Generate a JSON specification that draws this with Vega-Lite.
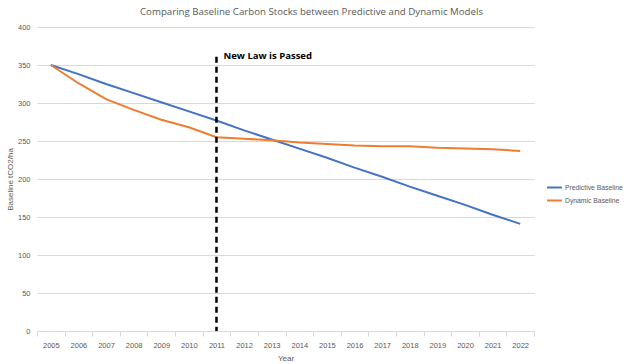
{
  "$schema": "https://vega.github.io/schema/vega-lite/v6.json",
  "width": 497,
  "height": 304,
  "autosize": {"type": "none"},
  "padding": {"left": 37, "top": 27, "right": 90, "bottom": 33},
  "background": "white",
  "config": {"view": {"stroke": null}, "font": "Liberation Sans"},
  "title": {"text": "Comparing Baseline Carbon Stocks between Predictive and Dynamic Models", "fontSize": 9.7, "fontWeight": "normal", "color": "#595959", "anchor": "middle", "dx": 26, "offset": 6, "font": "Open Sans"},
  "datasets": {
    "series": [
      {"Year": "2005", "Series": "Predictive Baseline", "Value": 350},
      {"Year": "2006", "Series": "Predictive Baseline", "Value": 338},
      {"Year": "2007", "Series": "Predictive Baseline", "Value": 325},
      {"Year": "2008", "Series": "Predictive Baseline", "Value": 313},
      {"Year": "2009", "Series": "Predictive Baseline", "Value": 301},
      {"Year": "2010", "Series": "Predictive Baseline", "Value": 289},
      {"Year": "2011", "Series": "Predictive Baseline", "Value": 277},
      {"Year": "2012", "Series": "Predictive Baseline", "Value": 264},
      {"Year": "2013", "Series": "Predictive Baseline", "Value": 252},
      {"Year": "2014", "Series": "Predictive Baseline", "Value": 240},
      {"Year": "2015", "Series": "Predictive Baseline", "Value": 228},
      {"Year": "2016", "Series": "Predictive Baseline", "Value": 215},
      {"Year": "2017", "Series": "Predictive Baseline", "Value": 203},
      {"Year": "2018", "Series": "Predictive Baseline", "Value": 190},
      {"Year": "2019", "Series": "Predictive Baseline", "Value": 178},
      {"Year": "2020", "Series": "Predictive Baseline", "Value": 166},
      {"Year": "2021", "Series": "Predictive Baseline", "Value": 153},
      {"Year": "2022", "Series": "Predictive Baseline", "Value": 141},
      {"Year": "2005", "Series": "Dynamic Baseline", "Value": 350},
      {"Year": "2006", "Series": "Dynamic Baseline", "Value": 326},
      {"Year": "2007", "Series": "Dynamic Baseline", "Value": 305},
      {"Year": "2008", "Series": "Dynamic Baseline", "Value": 291},
      {"Year": "2009", "Series": "Dynamic Baseline", "Value": 278},
      {"Year": "2010", "Series": "Dynamic Baseline", "Value": 268},
      {"Year": "2011", "Series": "Dynamic Baseline", "Value": 255},
      {"Year": "2012", "Series": "Dynamic Baseline", "Value": 253},
      {"Year": "2013", "Series": "Dynamic Baseline", "Value": 251},
      {"Year": "2014", "Series": "Dynamic Baseline", "Value": 248},
      {"Year": "2015", "Series": "Dynamic Baseline", "Value": 246},
      {"Year": "2016", "Series": "Dynamic Baseline", "Value": 244},
      {"Year": "2017", "Series": "Dynamic Baseline", "Value": 243},
      {"Year": "2018", "Series": "Dynamic Baseline", "Value": 243},
      {"Year": "2019", "Series": "Dynamic Baseline", "Value": 241},
      {"Year": "2020", "Series": "Dynamic Baseline", "Value": 240},
      {"Year": "2021", "Series": "Dynamic Baseline", "Value": 239},
      {"Year": "2022", "Series": "Dynamic Baseline", "Value": 237}
    ],
    "law": [{"Year": "2011", "Value": 361, "bottom": 0, "label": "New Law is Passed"}]
  },
  "encoding": {
    "x": {"field": "Year", "type": "ordinal", "scale": {"type": "band", "domain": ["2005","2006","2007","2008","2009","2010","2011","2012","2013","2014","2015","2016","2017","2018","2019","2020","2021","2022"]},
      "axis": {"title": "Year", "titleFontSize": 8, "titleFontWeight": "normal", "titleColor": "#595959", "titlePadding": 6, "labelAngle": 0, "labelFontSize": 7.5, "labelColor": "#595959", "labelPadding": 5, "tickBand": "extent", "tickSize": 5, "tickColor": "#d9d9d9", "domainColor": "#d9d9d9", "grid": false}},
    "y": {"field": "Value", "type": "quantitative", "scale": {"domain": [0, 400]},
      "axis": {"title": "Baseline tCO2/ha", "titleFontSize": 8, "titleFontWeight": "normal", "titleColor": "#595959", "titlePadding": 3, "values": [0,50,100,150,200,250,300,350,400], "labelOverlap": false, "labelFontSize": 7.5, "labelColor": "#595959", "labelPadding": 7, "ticks": false, "domain": false, "gridColor": "#d9d9d9", "gridWidth": 1}}
  },
  "layer": [
    {
      "data": {"name": "series"},
      "mark": {"type": "line", "strokeWidth": 2},
      "encoding": {
        "color": {"field": "Series", "type": "nominal", "scale": {"domain": ["Predictive Baseline", "Dynamic Baseline"], "range": ["#4472C4", "#ED7D31"]},
          "legend": {"title": null, "orient": "none", "legendX": 509, "legendY": 152, "symbolType": "stroke", "symbolSize": 220, "symbolStrokeWidth": 2, "labelFontSize": 6.8, "labelColor": "#595959", "rowPadding": 0, "labelOffset": 2}}
      }
    },
    {
      "data": {"name": "law"},
      "mark": {"type": "rule", "color": "black", "strokeWidth": 2.5, "strokeDash": [6, 4]},
      "encoding": {
        "y2": {"field": "bottom"}
      }
    },
    {
      "data": {"name": "law"},
      "mark": {"type": "text", "align": "left", "baseline": "middle", "dx": 7, "dy": -1, "fontWeight": "bold", "fontSize": 9.5, "color": "black", "font": "Open Sans"},
      "encoding": {
        "text": {"field": "label"}
      }
    }
  ]
}
